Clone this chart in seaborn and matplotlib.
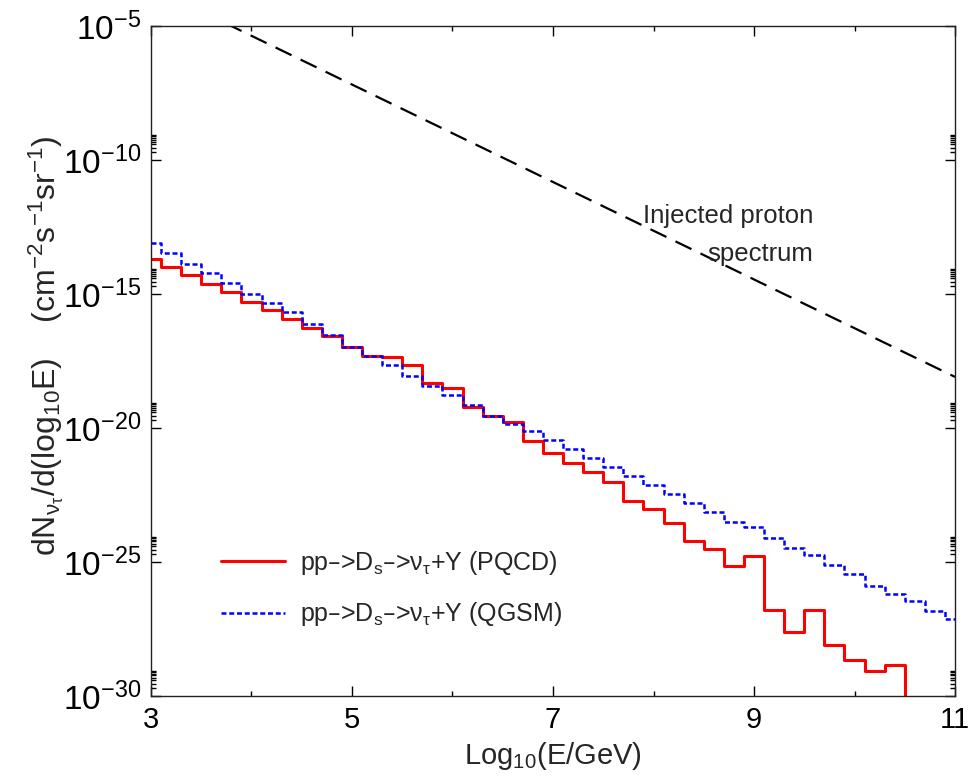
import numpy as np
import pandas as pd
import matplotlib
matplotlib.use("Agg")
import matplotlib.pyplot as plt
import matplotlib.ticker as mticker
import seaborn as sns

# --- Data (log10 of dN/dlog10E) ---
log_e = [3.0, 3.2, 3.4, 3.6, 3.8, 4.0, 4.2, 4.4, 4.6, 4.8,
         5.0, 5.2, 5.4, 5.6, 5.8, 6.0, 6.2, 6.4, 6.6, 6.8,
         7.0, 7.2, 7.4, 7.6, 7.8, 8.0, 8.2, 8.4, 8.6, 8.8,
         9.0, 9.2, 9.4, 9.6, 9.8, 10.0, 10.2, 10.4, 10.6, 10.8, 11.0]

pqcd_log = [-13.69, -13.97, -14.28, -14.62, -14.92, -15.27, -15.58, -15.93, -16.25, -16.55,
            -16.95, -17.29, -17.34, -17.65, -18.31, -18.49, -19.22, -19.52, -19.78, -20.49,
            -20.93, -21.31, -21.63, -21.99, -22.70, -23.00, -23.53, -24.19, -24.50, -25.12,
            -24.78, -26.77, -27.60, -26.77, -28.09, -28.64, -29.04, -28.84, -33.0, -33.0, -33.0]

qgsm_log = [-13.07, -13.46, -13.85, -14.19, -14.56, -14.97, -15.32, -15.65, -16.11, -16.52,
            -16.95, -17.29, -17.63, -18.06, -18.41, -18.76, -19.12, -19.53, -19.83, -20.09,
            -20.45, -20.77, -21.09, -21.43, -21.77, -22.12, -22.46, -22.79, -23.12, -23.48,
            -23.69, -24.10, -24.47, -24.72, -25.09, -25.43, -25.87, -26.19, -26.43, -26.81, -27.11]

proton_e = [3.0, 11.0]
proton_log = [-3.53, -18.08]

df = pd.DataFrame({"logE": log_e,
                   "pqcd": 10.0 ** np.array(pqcd_log),
                   "qgsm": 10.0 ** np.array(qgsm_log)})
proton = pd.DataFrame({"logE": proton_e, "flux": 10.0 ** np.array(proton_log)})

# --- Style ---
sns.set_style("ticks")
plt.rcParams['font.family'] = ['Liberation Sans', 'DejaVu Sans']
plt.rcParams['mathtext.default'] = 'regular'

fig = plt.figure(figsize=(9.69, 7.76), dpi=100)
ax = fig.add_axes([0.1558, 0.1027, 0.8298, 0.8632])

sns.lineplot(data=df, x="logE", y="pqcd", ax=ax, color="#ff0000", lw=2.2,
             drawstyle="steps-mid", label="pp\u2013>D$_s$\u2013>ν$_τ$+Y (PQCD)")
sns.lineplot(data=df, x="logE", y="qgsm", ax=ax, color="#0000ff", lw=1.8,
             linestyle=(0, (2, 1.1)), drawstyle="steps-mid",
             label="pp\u2013>D$_s$\u2013>ν$_τ$+Y (QGSM)")
sns.lineplot(data=proton, x="logE", y="flux", ax=ax, color="black", lw=1.6,
             linestyle=(0, (8, 4.5)))

ax.set_yscale("log")
ax.set_xlim(3, 11)
ax.set_ylim(1e-30, 1e-5)

ax.xaxis.set_major_locator(mticker.FixedLocator([3, 5, 7, 9, 11]))
ax.xaxis.set_minor_locator(mticker.FixedLocator([4, 6, 8, 10]))
ax.xaxis.set_major_formatter(mticker.FormatStrFormatter("%d"))
majors = [1e-30, 1e-25, 1e-20, 1e-15, 1e-10, 1e-5]
ax.yaxis.set_major_locator(mticker.FixedLocator(majors))
ax.yaxis.set_minor_locator(mticker.FixedLocator(
    [m * k for m in majors[:-1] for k in range(2, 10)]))
ax.yaxis.set_minor_formatter(mticker.NullFormatter())

ax.tick_params(which="both", direction="in", top=True, right=True,
               width=1.0, color="black", labelcolor="black")
ax.tick_params(axis="x", labelsize=21)
ax.tick_params(axis="y", labelsize=24)
ax.tick_params(which="major", length=7, pad=7)
ax.tick_params(which="minor", length=3.5)
for s in ax.spines.values():
    s.set_linewidth(1.0)
    s.set_color("#222222")

ax.set_xlabel("Log$_{10}$(E/GeV)", fontsize=21, labelpad=4)
ax.set_ylabel("dN$_{ν_τ}$/d(log$_{10}$E)    (cm$^{-2}$s$^{-1}$sr$^{-1}$)",
              fontsize=23)
ax.yaxis.set_label_coords(-0.106, 0.524)

ax.text(9.59, 10 ** -12.78, "Injected proton\nspectrum", ha="right", va="center",
        fontsize=18.5, linespacing=1.75)

ax.legend(loc="center left", bbox_to_anchor=(0.087, 0.161), frameon=False,
          fontsize=18, handlelength=2.55, handletextpad=0.6, labelspacing=0.95,
          borderpad=0, borderaxespad=0)

fig.savefig("out.png", dpi=100)
